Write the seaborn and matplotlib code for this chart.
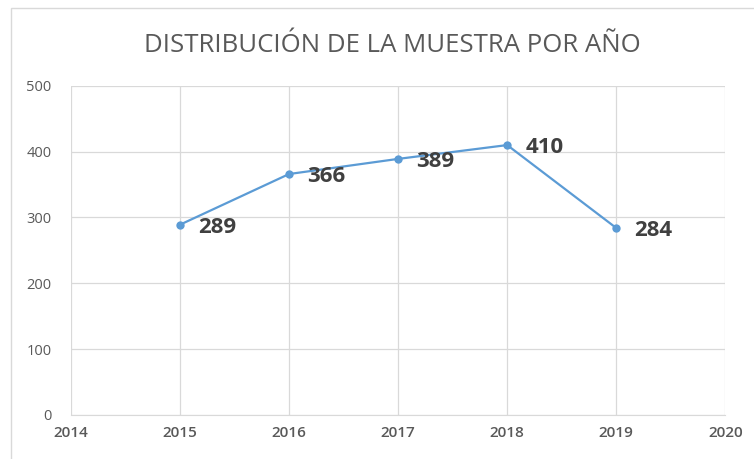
import pandas as pd
import matplotlib
matplotlib.use('Agg')
import matplotlib.pyplot as plt
import seaborn as sns

years = [2015, 2016, 2017, 2018, 2019]
counts = [289, 366, 389, 410, 284]
title = 'DISTRIBUCIÓN DE LA MUESTRA POR AÑO'

df = pd.DataFrame({'Año': years, 'Muestra': counts})

sns.set_style('white')
plt.rcParams['font.family'] = ['Open Sans', 'DejaVu Sans']

fig = plt.figure(figsize=(7.54, 4.59), dpi=100)
ax = fig.add_axes([0.094, 0.096, 0.868, 0.717])

sns.lineplot(data=df, x='Año', y='Muestra', ax=ax, color='#5B9BD5',
             linewidth=1.6, marker='o', markersize=6, markeredgewidth=0)

for x, y in zip(years, counts):
    ax.annotate(str(y), (x, y), xytext=(13, -2), textcoords='offset points',
                ha='left', va='center', fontsize=16, fontweight='bold', color='#404040')

ax.set_xlim(2014, 2020)
ax.set_ylim(0, 500)
ax.set_xticks(range(2014, 2021))
ax.set_yticks(range(0, 501, 100))
ax.grid(True, color='#D9D9D9', linewidth=0.9)
ax.set_axisbelow(True)
for s in ['top', 'right', 'left']:
    ax.spines[s].set_visible(False)
ax.spines['bottom'].set_color('#D9D9D9')
ax.tick_params(axis='x', length=0, pad=8)
ax.tick_params(axis='y', length=0, pad=14)
plt.setp(ax.get_xticklabels(), fontsize=11, fontweight='semibold', color='#595959')
plt.setp(ax.get_yticklabels(), fontsize=10.5, color='#595959')
ax.set_xlabel('')
ax.set_ylabel('')

fig.text(0.52, 0.90, title, ha='center', va='center', fontsize=18.5, color='#595959')

border = plt.Rectangle((0.0146, -0.01), 1.0, 0.992, transform=fig.transFigure,
                       fill=False, edgecolor='#D9D9D9', linewidth=1)
fig.patches.append(border)

fig.savefig('out.png', dpi=100)
